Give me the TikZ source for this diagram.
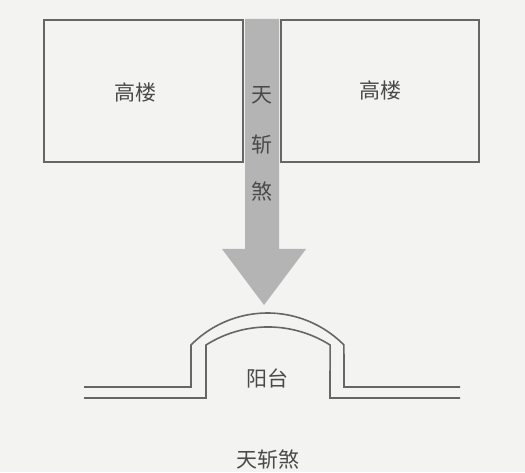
\documentclass[tikz,border=0pt]{standalone}
\usepackage{fontspec}
\usepackage{xcolor}
\usepackage{tikz}
\newfontfamily\cjk{Noto Sans CJK SC}
\definecolor{paper}{HTML}{F3F3F1}
\definecolor{wall}{HTML}{666666}
\definecolor{sha}{HTML}{B4B4B4}
\definecolor{ink}{HTML}{4A4A4A}

\begin{document}
\begin{tikzpicture}[
    x=1pt, y=1pt,
    building/.style={rectangle, draw=wall, line width=2pt, inner sep=0pt},
    tag/.style={text=ink, font=\cjk\fontsize{21}{25}\selectfont, inner sep=0pt},
    outline/.style={draw=wall, line width=1.6pt, line join=miter}
]
    \fill[paper] (0,0) rectangle (525,472);
    \useasboundingbox (0,0) rectangle (525,472);

    % the sky-cut arrow between the towers
    \fill[sha] (245,453) -- (279,453) -- (279,223) -- (306,223)
        -- (264,167) -- (222,223) -- (245,223) -- cycle;

    \node[building, minimum width=199pt, minimum height=142pt] (towerL) at (143.5,381) {};
    \node[building, minimum width=198pt, minimum height=142pt] (towerR) at (380,381) {};
    \node[tag] (nameL) at (135,380) {高楼};
    \node[tag] (nameR) at (380,382) {高楼};

    \node[tag] (tian) at (262,377) {天};
    \node[tag] (zhan) at (262,327) {斩};
    \node[tag] (sha) at (262,280) {煞};

    % balcony
    \draw[outline] (84,85) -- (191,85) -- (191,127)
        arc[start angle=135.4, end angle=44.6, radius=107.4]
        -- (344,85) -- (460,85);
    \draw[outline] (84,74) -- (206,74) -- (206,127)
        arc[start angle=122.4, end angle=57.6, radius=115.8]
        -- (330,74) -- (460,74);
    \node[tag] (balcony) at (267,94) {阳台};

    \node[tag] (caption) at (268,12) {天斩煞};
\end{tikzpicture}
\end{document}
